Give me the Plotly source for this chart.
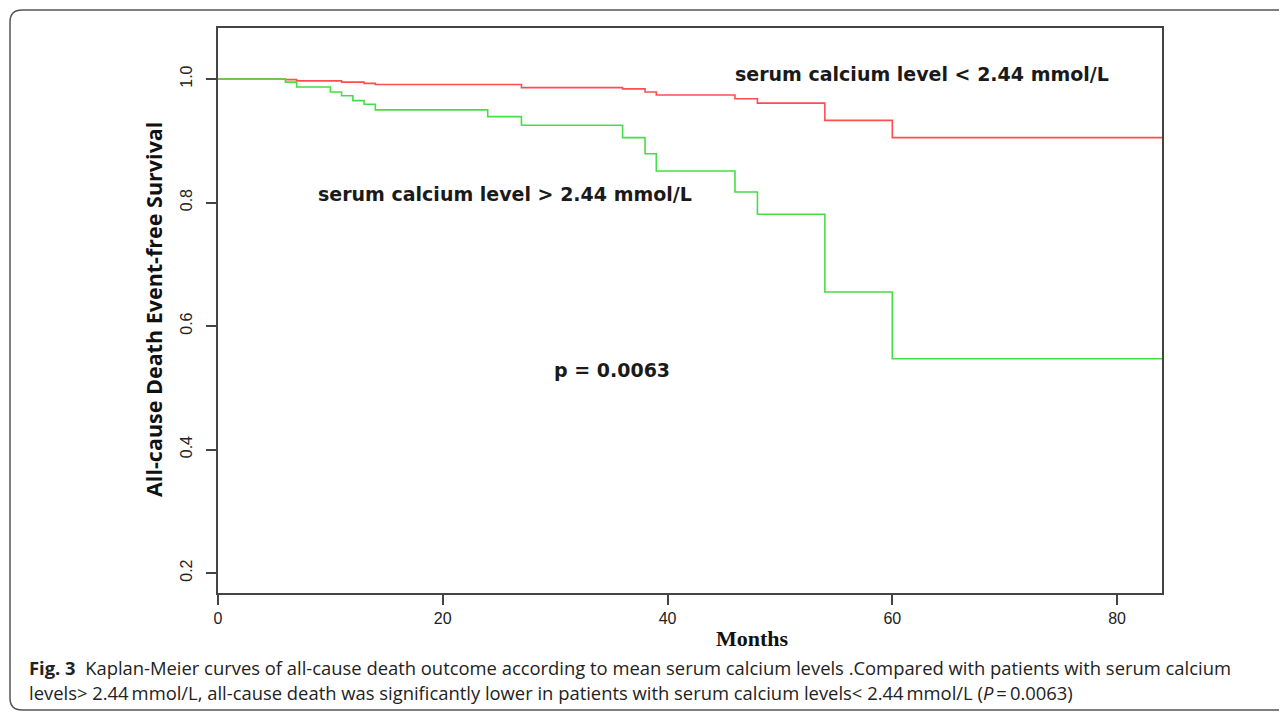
import plotly.graph_objects as go

# ---- data ----
low_months = [0, 6, 7, 11, 13, 14, 27, 36, 38, 39, 46, 48, 54, 60, 84]
low_surv = [1.0, 0.999, 0.997, 0.995, 0.993, 0.991, 0.986, 0.984, 0.979, 0.974, 0.968, 0.961, 0.933, 0.905, 0.905]

high_months = [0, 6, 7, 10, 11, 12, 13, 14, 24, 27, 36, 38, 39, 46, 48, 54, 60, 84]
high_surv = [1.0, 0.995, 0.987, 0.979, 0.973, 0.965, 0.959, 0.950, 0.939, 0.925, 0.905, 0.879, 0.851, 0.817, 0.781, 0.655, 0.547, 0.547]

x_ticks = [0, 20, 40, 60, 80]
y_ticks = [0.2, 0.4, 0.6, 0.8, 1.0]

label_low = "serum calcium level < 2.44 mmol/L"
label_high = "serum calcium level > 2.44 mmol/L"
p_label = "p = 0.0063"
caption1 = "<b>Fig. 3</b>  Kaplan-Meier curves of all-cause death outcome according to mean serum calcium levels .Compared with patients with serum calcium"
caption2 = "levels> 2.44\u2009mmol/L, all-cause death was significantly lower in patients with serum calcium levels< 2.44\u2009mmol/L (<i>P</i>\u2009=\u20090.0063)"

# ---- layout geometry (page pixels; body has an 8px margin) ----
OFF = 8
W, H = 1287 - OFF, 713 - OFF
L, R, T, B = 218, 1162, 28, 593


def px(x):
    return (x - L) / (R - L)


def py(y):
    return (B - y) / (B - T)


fig = go.Figure()
fig.add_trace(go.Scatter(x=low_months, y=low_surv, mode="lines", line_shape="hv",
                         line=dict(color="#ff4d4d", width=1.6), name=label_low, showlegend=False))
fig.add_trace(go.Scatter(x=high_months, y=high_surv, mode="lines", line_shape="hv",
                         line=dict(color="#47dd47", width=1.6), name=label_high, showlegend=False))

axis_common = dict(showgrid=False, zeroline=False, showline=True, linecolor="#444", linewidth=1.5,
                   mirror=True, ticks="outside", ticklen=10, tickwidth=1.5, tickcolor="#444",
                   tickfont=dict(family="Liberation Sans, Arial", size=16, color="#222"))

fig.update_xaxes(range=[0, 84], tickvals=x_ticks, ticktext=[str(v) for v in x_ticks], **axis_common)
fig.update_yaxes(range=[0.1676, 1.0826], tickvals=y_ticks, ticktext=[f"{v:.1f}" for v in y_ticks],
                 tickangle=-90, ticklabelstandoff=8, **axis_common)

annos = []
txt_font = dict(family="DejaVu Sans", size=19, color="#1a1a1a")
annos.append(dict(text=f"<b>{label_low}</b>", x=px(733), y=py(74), xref="paper", yref="paper",
                  xanchor="left", yanchor="middle", showarrow=False, font=txt_font))
annos.append(dict(text=f"<b>{label_high}</b>", x=px(316), y=py(194), xref="paper", yref="paper",
                  xanchor="left", yanchor="middle", showarrow=False, font=txt_font))
annos.append(dict(text=f"<b>{p_label}</b>", x=px(552), y=py(370), xref="paper", yref="paper",
                  xanchor="left", yanchor="middle", showarrow=False, font=txt_font))
# axis titles
annos.append(dict(text="<b>All-cause Death Event-free Survival</b>", x=px(153), y=py(310),
                  xref="paper", yref="paper", textangle=-90, xanchor="center", yanchor="middle",
                  showarrow=False, font=dict(family="Open Sans, DejaVu Sans", size=21.5, color="#111")))
annos.append(dict(text="<b>Months</b>", x=px(752), y=py(638), xref="paper", yref="paper",
                  xanchor="center", yanchor="middle", showarrow=False,
                  font=dict(family="Liberation Serif, Times New Roman", size=22, color="#111")))
# caption
cap_font = dict(family="Open Sans", size=18.4, color="#222")
annos.append(dict(text=caption1, x=px(27), y=py(667), xref="paper", yref="paper",
                  xanchor="left", yanchor="middle", showarrow=False, font=cap_font))
annos.append(dict(text=caption2, x=px(27), y=py(692), xref="paper", yref="paper",
                  xanchor="left", yanchor="middle", showarrow=False, font=cap_font))

# rounded outer frame (left side visible)
fx0, fy0, fy1, rad, fx1 = 10, 10, 710, 12, 1300
path = (f"M {px(fx1)},{py(fy0)} L {px(fx0 + rad)},{py(fy0)} Q {px(fx0)},{py(fy0)} {px(fx0)},{py(fy0 + rad)} "
        f"L {px(fx0)},{py(fy1 - rad)} Q {px(fx0)},{py(fy1)} {px(fx0 + rad)},{py(fy1)} L {px(fx1)},{py(fy1)}")
shapes = [dict(type="path", path=path, xref="paper", yref="paper",
               line=dict(color="#555", width=1.5))]

fig.update_layout(width=W, height=H,
                  margin=dict(l=L - OFF, r=1287 - R, t=T - OFF, b=713 - B, autoexpand=False),
                  paper_bgcolor="white", plot_bgcolor="white", annotations=annos, shapes=shapes,
                  showlegend=False)

fig.write_html("out.html")
